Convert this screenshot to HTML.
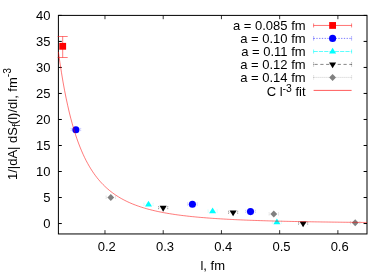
<!DOCTYPE html>
<html><head><meta charset="utf-8"><title>plot</title>
<style>
html,body{margin:0;padding:0;background:#fff;}
body{width:389px;height:273px;overflow:hidden;}
svg{display:block;}
g.t{filter:grayscale(1);}
text{font-family:"Liberation Sans",sans-serif;font-size:13px;fill:#000;}
</style></head><body>
<svg width="389" height="273" viewBox="0 0 389 273">
<rect x="0" y="0" width="389" height="273" fill="#fff"/>

<rect x="58.4" y="15.4" width="308.6" height="218.54999999999998" fill="none" stroke="#000" stroke-width="1"/>
<path d="M58.4,223.54 h3.4 M367.0,223.54 h-3.4" stroke="#000" stroke-width="1" fill="none"/>
<path d="M58.4,197.52 h3.4 M367.0,197.52 h-3.4" stroke="#000" stroke-width="1" fill="none"/>
<path d="M58.4,171.51 h3.4 M367.0,171.51 h-3.4" stroke="#000" stroke-width="1" fill="none"/>
<path d="M58.4,145.49 h3.4 M367.0,145.49 h-3.4" stroke="#000" stroke-width="1" fill="none"/>
<path d="M58.4,119.47 h3.4 M367.0,119.47 h-3.4" stroke="#000" stroke-width="1" fill="none"/>
<path d="M58.4,93.45 h3.4 M367.0,93.45 h-3.4" stroke="#000" stroke-width="1" fill="none"/>
<path d="M58.4,67.44 h3.4 M367.0,67.44 h-3.4" stroke="#000" stroke-width="1" fill="none"/>
<path d="M58.4,41.42 h3.4 M367.0,41.42 h-3.4" stroke="#000" stroke-width="1" fill="none"/>
<path d="M58.4,15.4 h3.4 M367.0,15.4 h-3.4" stroke="#000" stroke-width="1" fill="none"/>
<path d="M104.98,233.95 v-3.8 M104.98,15.4 v3.8" stroke="#000" stroke-width="1" stroke-opacity="0.8" fill="none"/>
<path d="M163.21,233.95 v-3.8 M163.21,15.4 v3.8" stroke="#000" stroke-width="1" stroke-opacity="0.8" fill="none"/>
<path d="M221.43,233.95 v-3.8 M221.43,15.4 v3.8" stroke="#000" stroke-width="1" stroke-opacity="0.8" fill="none"/>
<path d="M279.66,233.95 v-3.8 M279.66,15.4 v3.8" stroke="#000" stroke-width="1" stroke-opacity="0.8" fill="none"/>
<path d="M337.89,233.95 v-3.8 M337.89,15.4 v3.8" stroke="#000" stroke-width="1" stroke-opacity="0.8" fill="none"/>
<path d="M62.7,36.5 V57.5 M57.7,36.5 h10 M57.7,57.5 h10" stroke="#ff0000" stroke-width="0.65" fill="none" opacity="0.8"/>
<rect x="59.30" y="42.90" width="6.8" height="6.8" fill="#ff0000"/>
<path d="M71.10,129.70 H80.70" stroke="#0000ff" stroke-width="0.6" fill="none" stroke-dasharray="1 1.2" opacity="0.18"/><path d="M71.10,127.90 v3.6 M80.70,127.90 v3.6" stroke="#0000ff" stroke-width="0.7" fill="none" stroke-dasharray="1.2 0.8" opacity="0.3"/>
<circle cx="75.90" cy="129.70" r="3.55" fill="#0000ff"/>
<path d="M187.60,204.25 H197.20" stroke="#0000ff" stroke-width="0.6" fill="none" stroke-dasharray="1 1.2" opacity="0.18"/><path d="M187.60,202.45 v3.6 M197.20,202.45 v3.6" stroke="#0000ff" stroke-width="0.7" fill="none" stroke-dasharray="1.2 0.8" opacity="0.3"/>
<circle cx="192.40" cy="204.25" r="3.55" fill="#0000ff"/>
<path d="M245.70,211.60 H255.30" stroke="#0000ff" stroke-width="0.6" fill="none" stroke-dasharray="1 1.2" opacity="0.18"/><path d="M245.70,209.80 v3.6 M255.30,209.80 v3.6" stroke="#0000ff" stroke-width="0.7" fill="none" stroke-dasharray="1.2 0.8" opacity="0.3"/>
<circle cx="250.50" cy="211.60" r="3.55" fill="#0000ff"/>
<path d="M143.90,204.50 H153.10" stroke="#00ffff" stroke-width="0.6" fill="none" stroke-dasharray="1 1.2" opacity="0.18"/><path d="M143.90,202.70 v3.6 M153.10,202.70 v3.6" stroke="#00ffff" stroke-width="0.7" fill="none" stroke-dasharray="1.2 0.8" opacity="0.3"/>
<path d="M148.50,200.63 L152.00,206.43 L145.00,206.43 Z" fill="#00ffff"/>
<path d="M208.00,211.30 H217.20" stroke="#00ffff" stroke-width="0.6" fill="none" stroke-dasharray="1 1.2" opacity="0.18"/><path d="M208.00,209.50 v3.6 M217.20,209.50 v3.6" stroke="#00ffff" stroke-width="0.7" fill="none" stroke-dasharray="1.2 0.8" opacity="0.3"/>
<path d="M212.60,207.43 L216.10,213.23 L209.10,213.23 Z" fill="#00ffff"/>
<path d="M272.30,222.30 H281.50" stroke="#00ffff" stroke-width="0.6" fill="none" stroke-dasharray="1 1.2" opacity="0.18"/><path d="M272.30,220.50 v3.6 M281.50,220.50 v3.6" stroke="#00ffff" stroke-width="0.7" fill="none" stroke-dasharray="1.2 0.8" opacity="0.3"/>
<path d="M276.90,218.43 L280.40,224.23 L273.40,224.23 Z" fill="#00ffff"/>
<path d="M158.55,207.80 H167.75" stroke="#000000" stroke-width="0.6" fill="none" stroke-dasharray="1 1.2" opacity="0.30"/><path d="M158.55,206.00 v3.6 M167.75,206.00 v3.6" stroke="#000000" stroke-width="0.7" fill="none" stroke-dasharray="1.2 0.8" opacity="0.5"/>
<path d="M163.15,211.67 L166.65,205.87 L159.65,205.87 Z" fill="#000000"/>
<path d="M228.50,212.50 H237.70" stroke="#000000" stroke-width="0.6" fill="none" stroke-dasharray="1 1.2" opacity="0.30"/><path d="M228.50,210.70 v3.6 M237.70,210.70 v3.6" stroke="#000000" stroke-width="0.7" fill="none" stroke-dasharray="1.2 0.8" opacity="0.5"/>
<path d="M233.10,216.37 L236.60,210.57 L229.60,210.57 Z" fill="#000000"/>
<path d="M298.50,223.40 H307.70" stroke="#000000" stroke-width="0.6" fill="none" stroke-dasharray="1 1.2" opacity="0.30"/><path d="M298.50,221.60 v3.6 M307.70,221.60 v3.6" stroke="#000000" stroke-width="0.7" fill="none" stroke-dasharray="1.2 0.8" opacity="0.5"/>
<path d="M303.10,227.27 L306.60,221.47 L299.60,221.47 Z" fill="#000000"/>
<path d="M106.10,197.45 H115.50" stroke="#808080" stroke-width="0.6" fill="none" stroke-dasharray="1 1.2" opacity="0.21"/><path d="M106.10,195.65 v3.6 M115.50,195.65 v3.6" stroke="#808080" stroke-width="0.7" fill="none" stroke-dasharray="1.2 0.8" opacity="0.35"/>
<path d="M110.80,193.95 L114.20,197.45 L110.80,200.95 L107.40,197.45 Z" fill="#808080"/>
<path d="M269.10,214.10 H278.50" stroke="#808080" stroke-width="0.6" fill="none" stroke-dasharray="1 1.2" opacity="0.21"/><path d="M269.10,212.30 v3.6 M278.50,212.30 v3.6" stroke="#808080" stroke-width="0.7" fill="none" stroke-dasharray="1.2 0.8" opacity="0.35"/>
<path d="M273.80,210.60 L277.20,214.10 L273.80,217.60 L270.40,214.10 Z" fill="#808080"/>
<path d="M350.50,222.80 H359.90" stroke="#808080" stroke-width="0.6" fill="none" stroke-dasharray="1 1.2" opacity="0.21"/><path d="M350.50,221.00 v3.6 M359.90,221.00 v3.6" stroke="#808080" stroke-width="0.7" fill="none" stroke-dasharray="1.2 0.8" opacity="0.35"/>
<path d="M355.20,219.30 L358.60,222.80 L355.20,226.30 L351.80,222.80 Z" fill="#808080"/>
<path d="M58.40,51.90 L59.94,62.78 L61.49,72.77 L63.03,81.95 L64.57,90.39 L66.12,98.18 L67.66,105.37 L69.20,112.02 L70.74,118.18 L72.29,123.90 L73.83,129.21 L75.37,134.15 L76.92,138.75 L78.46,143.04 L80.00,147.05 L81.55,150.79 L83.09,154.29 L84.63,157.58 L86.17,160.65 L87.72,163.54 L89.26,166.26 L90.80,168.81 L92.35,171.22 L93.89,173.48 L95.43,175.62 L96.97,177.63 L98.52,179.54 L100.06,181.34 L101.60,183.05 L103.15,184.66 L104.69,186.19 L106.23,187.64 L107.78,189.01 L109.32,190.32 L110.86,191.56 L112.41,192.74 L113.95,193.86 L115.49,194.93 L117.03,195.95 L118.58,196.92 L120.12,197.85 L121.66,198.73 L123.21,199.57 L124.75,200.38 L126.29,201.15 L127.84,201.88 L129.38,202.59 L130.92,203.26 L132.46,203.91 L134.01,204.53 L135.55,205.12 L137.09,205.69 L138.64,206.23 L140.18,206.75 L141.72,207.26 L143.27,207.74 L144.81,208.20 L146.35,208.65 L147.89,209.08 L149.44,209.49 L150.98,209.89 L152.52,210.27 L154.07,210.64 L155.61,210.99 L157.15,211.33 L158.70,211.66 L160.24,211.98 L161.78,212.28 L163.32,212.58 L164.87,212.86 L166.41,213.14 L167.95,213.41 L169.50,213.66 L171.04,213.91 L172.58,214.15 L174.12,214.38 L175.67,214.61 L177.21,214.83 L178.75,215.04 L180.30,215.24 L181.84,215.44 L183.38,215.63 L184.93,215.81 L186.47,215.99 L188.01,216.17 L189.56,216.34 L191.10,216.50 L192.64,216.66 L194.18,216.81 L195.73,216.96 L197.27,217.11 L198.81,217.25 L200.36,217.38 L201.90,217.52 L203.44,217.64 L204.99,217.77 L206.53,217.89 L208.07,218.01 L209.61,218.12 L211.16,218.24 L212.70,218.35 L214.24,218.45 L215.79,218.55 L217.33,218.65 L218.87,218.75 L220.42,218.85 L221.96,218.94 L223.50,219.03 L225.04,219.12 L226.59,219.20 L228.13,219.29 L229.67,219.37 L231.22,219.45 L232.76,219.52 L234.30,219.60 L235.84,219.67 L237.39,219.74 L238.93,219.81 L240.47,219.88 L242.02,219.95 L243.56,220.01 L245.10,220.08 L246.65,220.14 L248.19,220.20 L249.73,220.26 L251.28,220.31 L252.82,220.37 L254.36,220.43 L255.90,220.48 L257.45,220.53 L258.99,220.58 L260.53,220.63 L262.08,220.68 L263.62,220.73 L265.16,220.78 L266.71,220.82 L268.25,220.87 L269.79,220.91 L271.33,220.95 L272.88,221.00 L274.42,221.04 L275.96,221.08 L277.51,221.12 L279.05,221.16 L280.59,221.19 L282.14,221.23 L283.68,221.27 L285.22,221.30 L286.76,221.34 L288.31,221.37 L289.85,221.40 L291.39,221.44 L292.94,221.47 L294.48,221.50 L296.02,221.53 L297.56,221.56 L299.11,221.59 L300.65,221.62 L302.19,221.65 L303.74,221.67 L305.28,221.70 L306.82,221.73 L308.37,221.75 L309.91,221.78 L311.45,221.80 L313.00,221.83 L314.54,221.85 L316.08,221.88 L317.62,221.90 L319.17,221.92 L320.71,221.95 L322.25,221.97 L323.80,221.99 L325.34,222.01 L326.88,222.03 L328.43,222.05 L329.97,222.07 L331.51,222.09 L333.05,222.11 L334.60,222.13 L336.14,222.15 L337.68,222.17 L339.23,222.19 L340.77,222.20 L342.31,222.22 L343.86,222.24 L345.40,222.25 L346.94,222.27 L348.48,222.29 L350.03,222.30 L351.57,222.32 L353.11,222.33 L354.66,222.35 L356.20,222.36 L357.74,222.38 L359.28,222.39 L360.83,222.41 L362.37,222.42 L363.91,222.44 L365.46,222.45 L367.00,222.46" fill="none" stroke="#ff0000" stroke-width="0.62" opacity="0.85"/>
<path d="M313.6,25.45 H351.6" stroke="#ff0000" stroke-width="0.65" fill="none" opacity="0.85"/>
<path d="M313.6,23.45 v4 M351.6,23.45 v4" stroke="#ff0000" stroke-width="0.65" fill="none" opacity="0.77"/>
<rect x="329.20" y="22.05" width="6.8" height="6.8" fill="#ff0000"/>
<path d="M313.6,38.4 H351.6" stroke="#0000ff" stroke-width="0.8" fill="none" stroke-dasharray="1.3 1.45" stroke-dashoffset="0" opacity="0.65"/>
<path d="M313.6,36.40 v4 M351.6,36.40 v4" stroke="#0000ff" stroke-width="0.8" fill="none" stroke-dasharray="1 0.5" opacity="0.59"/>
<circle cx="332.60" cy="38.40" r="3.55" fill="#0000ff"/>
<path d="M313.6,51.5 H351.6" stroke="#00ffff" stroke-width="0.8" fill="none" stroke-dasharray="4.2 1.1" stroke-dashoffset="0" opacity="0.8"/>
<path d="M313.6,49.50 v4 M351.6,49.50 v4" stroke="#00ffff" stroke-width="0.8" fill="none" opacity="0.72"/>
<path d="M332.60,47.63 L336.10,53.43 L329.10,53.43 Z" fill="#00ffff"/>
<path d="M313.6,64.4 H351.6" stroke="#000000" stroke-width="0.8" fill="none" stroke-dasharray="3.2 2.6" stroke-dashoffset="4.9" opacity="0.6"/>
<path d="M313.6,62.40 v4 M351.6,62.40 v4" stroke="#000000" stroke-width="0.8" fill="none" stroke-dasharray="1 0.6" opacity="0.54"/>
<path d="M332.60,68.27 L336.10,62.47 L329.10,62.47 Z" fill="#000000"/>
<path d="M313.6,77.4 H351.6" stroke="#808080" stroke-width="0.8" fill="none" stroke-dasharray="1 1" stroke-dashoffset="0" opacity="0.5"/>
<path d="M313.6,75.40 v4 M351.6,75.40 v4" stroke="#808080" stroke-width="0.8" fill="none" stroke-dasharray="1 0.6" opacity="0.45"/>
<path d="M332.60,73.90 L336.00,77.40 L332.60,80.90 L329.20,77.40 Z" fill="#808080"/>
<path d="M313.6,90.39999999999999 H351.6" stroke="#ff0000" stroke-width="0.65" fill="none"/>
<g class="t"><text x="50.5" y="228.2" text-anchor="end">0</text>
<text x="50.5" y="202.2" text-anchor="end">5</text>
<text x="50.5" y="176.2" text-anchor="end">10</text>
<text x="50.5" y="150.2" text-anchor="end">15</text>
<text x="50.5" y="124.2" text-anchor="end">20</text>
<text x="50.5" y="98.2" text-anchor="end">25</text>
<text x="50.5" y="72.1" text-anchor="end">30</text>
<text x="50.5" y="46.1" text-anchor="end">35</text>
<text x="50.5" y="20.1" text-anchor="end">40</text>
<text x="106.78" y="251.1" text-anchor="middle">0.2</text>
<text x="165.01" y="251.1" text-anchor="middle">0.3</text>
<text x="223.23" y="251.1" text-anchor="middle">0.4</text>
<text x="281.46" y="251.1" text-anchor="middle">0.5</text>
<text x="339.69" y="251.1" text-anchor="middle">0.6</text>
<text x="212.7" y="270.1" text-anchor="middle">l, fm</text>
<text transform="translate(17.2,124) rotate(-90)" text-anchor="middle">1/|dA| dS<tspan font-size="10.4" dy="3">f</tspan><tspan dy="-3">(l)/dl, fm</tspan><tspan font-size="10.4" dy="-6.4">-3</tspan></text>
<text x="305.6" y="30.2" text-anchor="end">a = 0.085 fm</text>
<text x="305.6" y="43.2" text-anchor="end">a = 0.10 fm</text>
<text x="305.6" y="56.3" text-anchor="end">a = 0.11 fm</text>
<text x="305.6" y="69.2" text-anchor="end">a = 0.12 fm</text>
<text x="305.6" y="82.2" text-anchor="end">a = 0.14 fm</text>
<text x="305.6" y="95.7" text-anchor="end">C l<tspan font-size="10.4" dy="-4.1">-3</tspan><tspan dy="4.1"> fit</tspan></text></g>
</svg></body></html>
